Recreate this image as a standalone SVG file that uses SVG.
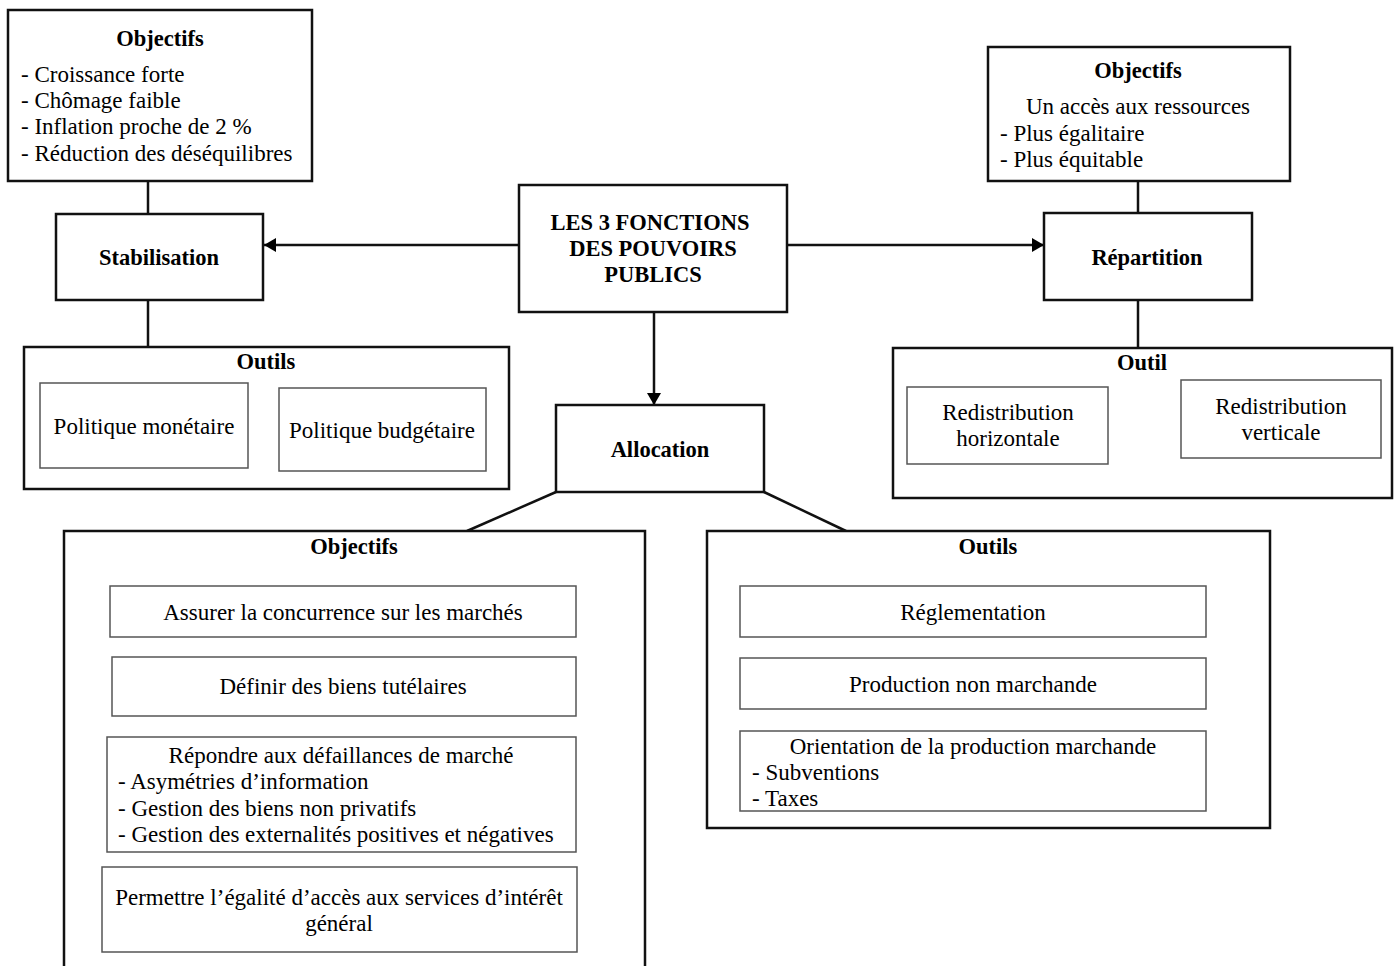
<svg xmlns="http://www.w3.org/2000/svg" width="1397" height="966" viewBox="0 0 1397 966" font-family="'Liberation Serif', Tinos, 'Times New Roman', 'DejaVu Serif', serif">
<defs>
<style>
.main{fill:#fff;stroke:#111;stroke-width:2.5}
.inner{fill:#fff;stroke:#555;stroke-width:1.5}
.ln{fill:none;stroke:#111;stroke-width:2.5}
text{font-family:'Liberation Serif', Tinos, 'Times New Roman', 'DejaVu Serif', serif;font-size:23px;fill:#000}
.b{font-weight:bold;font-size:22.5px}
.c{text-anchor:middle}
</style>
<marker id="ah" viewBox="0 0 12 14" refX="12" refY="7" markerWidth="12" markerHeight="14" markerUnits="userSpaceOnUse" orient="auto">
<path d="M0,0 L12,7 L0,14 Z" fill="#000"/>
</marker>
</defs>
<rect width="1397" height="966" fill="#fff"/>
<g id="connectors">
<line class="ln" x1="148" y1="181" x2="148" y2="214"/>
<line class="ln" x1="148" y1="300" x2="148" y2="347"/>
<line class="ln" x1="519" y1="245" x2="264" y2="245" marker-end="url(#ah)"/>
<line class="ln" x1="787" y1="245" x2="1044" y2="245" marker-end="url(#ah)"/>
<line class="ln" x1="654" y1="312" x2="654" y2="405" marker-end="url(#ah)"/>
<line class="ln" x1="1138" y1="181" x2="1138" y2="213"/>
<line class="ln" x1="1138" y1="300" x2="1138" y2="348"/>
<line class="ln" x1="556" y1="492" x2="467" y2="531"/>
<line class="ln" x1="764" y1="492" x2="846" y2="531"/>
</g>
<g id="obj-stab">
<rect class="main" x="8" y="10" width="304" height="171"/>
<text class="b c" x="160" y="46">Objectifs</text>
<text x="21" y="82">- Croissance forte</text>
<text x="21" y="108">- Chômage faible</text>
<text x="21" y="134">- Inflation proche de 2 %</text>
<text x="21" y="161">- Réduction des déséquilibres</text>
</g>
<g id="stabilisation">
<rect class="main" x="56" y="214" width="207" height="86"/>
<text class="b c" x="159" y="265">Stabilisation</text>
</g>
<g id="outils-stab">
<rect class="main" x="24" y="347" width="485" height="142"/>
<text class="b c" x="266" y="369">Outils</text>
<rect class="inner" x="40" y="383" width="208" height="85"/>
<text class="c" x="144" y="434">Politique monétaire</text>
<rect class="inner" x="279" y="388" width="207" height="83"/>
<text class="c" x="382" y="438">Politique budgétaire</text>
</g>
<g id="center">
<rect class="main" x="519" y="185" width="268" height="127"/>
<text class="b c" x="650" y="230">LES 3 FONCTIONS</text>
<text class="b c" x="653" y="256">DES POUVOIRS</text>
<text class="b c" x="653" y="282">PUBLICS</text>
</g>
<g id="obj-rep">
<rect class="main" x="988" y="47" width="302" height="134"/>
<text class="b c" x="1138" y="78">Objectifs</text>
<text class="c" x="1138" y="114">Un accès aux ressources</text>
<text x="1000" y="141">- Plus égalitaire</text>
<text x="1000" y="167">- Plus équitable</text>
</g>
<g id="repartition">
<rect class="main" x="1044" y="213" width="208" height="87"/>
<text class="b c" x="1147" y="265">Répartition</text>
</g>
<g id="outil-rep">
<rect class="main" x="893" y="348" width="499" height="150"/>
<text class="b c" x="1142" y="370">Outil</text>
<rect class="inner" x="907" y="387" width="201" height="77"/>
<text class="c" x="1008" y="420">Redistribution</text>
<text class="c" x="1008" y="446">horizontale</text>
<rect class="inner" x="1181" y="380" width="200" height="78"/>
<text class="c" x="1281" y="414">Redistribution</text>
<text class="c" x="1281" y="440">verticale</text>
</g>
<g id="allocation">
<rect class="main" x="556" y="405" width="208" height="87"/>
<text class="b c" x="660" y="457">Allocation</text>
</g>
<g id="obj-alloc">
<path class="main" d="M64,968 L64,531 L645,531 L645,968"/>
<text class="b c" x="354" y="554">Objectifs</text>
<rect class="inner" x="110" y="586" width="466" height="51"/>
<text class="c" x="343" y="620">Assurer la concurrence sur les marchés</text>
<rect class="inner" x="112" y="657" width="464" height="59"/>
<text class="c" x="343" y="694">Définir des biens tutélaires</text>
<rect class="inner" x="107" y="737" width="469" height="115"/>
<text class="c" x="341" y="763">Répondre aux défaillances de marché</text>
<text x="118" y="789">- Asymétries d’information</text>
<text x="118" y="816">- Gestion des biens non privatifs</text>
<text x="118" y="842">- Gestion des externalités positives et négatives</text>
<rect class="inner" x="102" y="867" width="475" height="85"/>
<text class="c" x="339" y="905">Permettre l’égalité d’accès aux services d’intérêt</text>
<text class="c" x="339" y="931">général</text>
</g>
<g id="outils-alloc">
<rect class="main" x="707" y="531" width="563" height="297"/>
<text class="b c" x="988" y="554">Outils</text>
<rect class="inner" x="740" y="586" width="466" height="51"/>
<text class="c" x="973" y="620">Réglementation</text>
<rect class="inner" x="740" y="658" width="466" height="51"/>
<text class="c" x="973" y="692">Production non marchande</text>
<rect class="inner" x="740" y="731" width="466" height="80"/>
<text class="c" x="973" y="754">Orientation de la production marchande</text>
<text x="752" y="780">- Subventions</text>
<text x="752" y="806">- Taxes</text>
</g>
</svg>
